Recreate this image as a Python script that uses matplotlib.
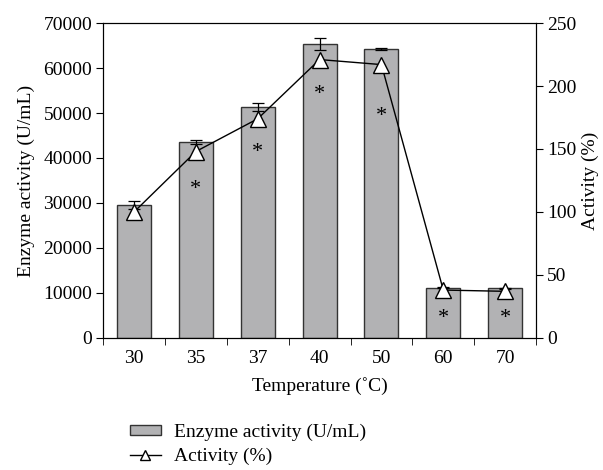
import numpy as np
import matplotlib
matplotlib.use("Agg")
import matplotlib.pyplot as plt
from matplotlib.patches import Patch
from matplotlib.lines import Line2D

# ===== Data =====
temps = ["30", "35", "37", "40", "50", "60", "70"]
enzyme = [29500, 43500, 51300, 65300, 64200, 11200, 11000]
enzyme_err = [900, 500, 900, 1400, 300, 150, 150]
activity = [100, 148, 174, 221, 217, 38, 37]
star_y = [None, 33000, 41300, 54200, 49300, 4400, 4400]

plt.rcParams["font.family"] = ["Liberation Serif", "DejaVu Serif"]
plt.rcParams["font.size"] = 14

fig = plt.figure(figsize=(6.03, 4.70), dpi=100)
ax = fig.add_axes([0.171, 0.281, 0.718, 0.670])
x = np.arange(len(temps))

ax.bar(x, enzyme, width=0.55, color="#b2b2b4", edgecolor="#333333", linewidth=1.0,
       zorder=2)
ax.errorbar(x, enzyme, yerr=enzyme_err, fmt="none", ecolor="black", elinewidth=0.9,
            capsize=4, capthick=0.9, zorder=3)
for xi, sy in zip(x, star_y):
    if sy is not None:
        ax.text(xi, sy, "*", ha="center", va="center", fontsize=16, zorder=4)

ax.set_xlim(-0.5, 6.5)
ax.set_ylim(0, 70000)
ax.set_yticks(range(0, 70001, 10000))
ax.set_xticks(x)
ax.set_xticklabels(temps)
ax.set_xticks(np.arange(-0.5, 7, 1), minor=True)
ax.tick_params(axis="x", which="major", length=0, pad=9)
ax.tick_params(axis="x", which="minor", length=5, direction="out")
ax.tick_params(axis="y", length=5, direction="out", pad=3)
ax.set_xlabel("Temperature (˚C)", labelpad=7)
ax.set_ylabel("Enzyme activity (U/mL)", labelpad=6)

ax2 = ax.twinx()
ax2.plot(x, activity, color="black", lw=1.0, marker="^", markersize=11,
         markerfacecolor="white", markeredgecolor="black", markeredgewidth=1.0,
         zorder=5)
ax2.set_ylim(0, 250)
ax2.set_yticks(range(0, 251, 50))
ax2.tick_params(axis="y", length=5, direction="out", pad=3)
ax2.set_ylabel("Activity (%)", labelpad=4)

handles = [
    Patch(facecolor="#b2b2b4", edgecolor="#333333", linewidth=1.0),
    Line2D([], [], color="black", lw=1.0, marker="^", markersize=7,
           markerfacecolor="white", markeredgecolor="black"),
]
fig.legend(handles, ["Enzyme activity (U/mL)", "Activity (%)"],
           loc="upper left", bbox_to_anchor=(0.215, 0.098), frameon=False,
           handlelength=1.6, handleheight=0.4, labelspacing=0.35,
           handletextpad=0.7, borderaxespad=0, borderpad=0)

fig.savefig("out.png", dpi=100)
